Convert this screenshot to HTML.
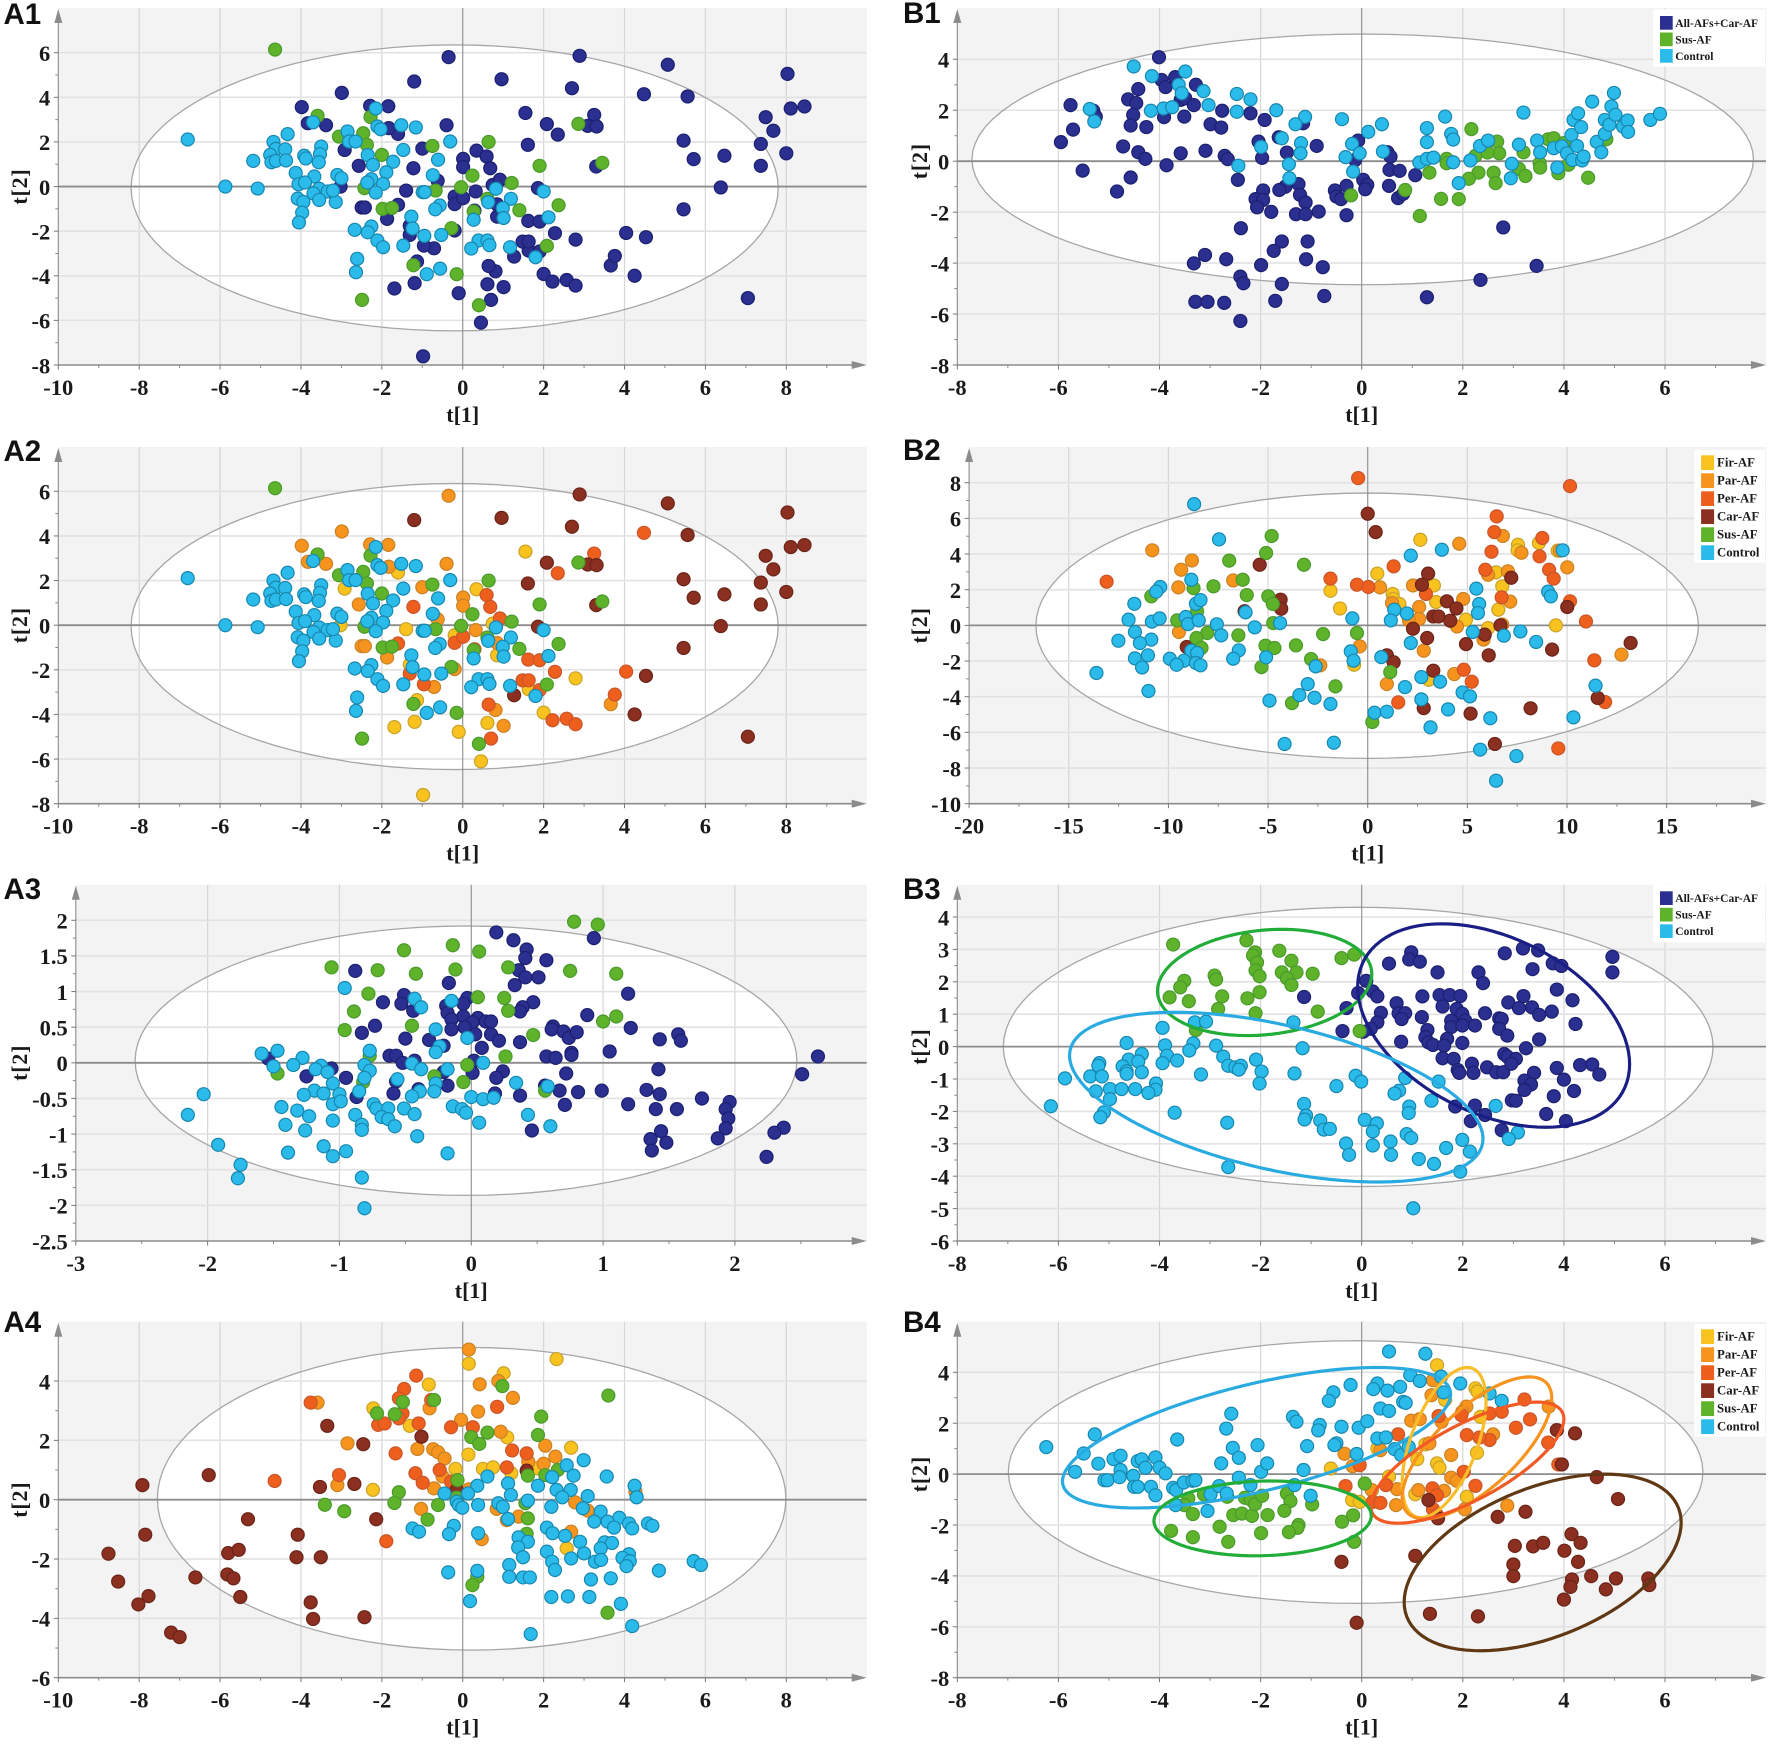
<!DOCTYPE html>
<html lang="en">
<head>
<meta charset="utf-8">
<title>PLS-DA score plots A1-A4 and B1-B4</title>
<style>
html,body{margin:0;padding:0;background:#fff;}
svg{display:block;}
.tick{font-family:"Liberation Serif",serif;font-weight:bold;font-size:22.5px;fill:#1a1a1a;}
.title{font-family:"Liberation Serif",serif;font-weight:bold;font-size:22px;fill:#1a1a1a;}
.plabel{font-family:"Liberation Sans",sans-serif;font-weight:bold;font-size:29.5px;fill:#111;}
.ltext{font-family:"Liberation Serif",serif;font-weight:bold;fill:#1a1a1a;}
</style>
</head>
<body>
<svg id="chart" xmlns="http://www.w3.org/2000/svg" width="1772" height="1745" viewBox="0 0 1772 1745"></svg>
<script>
/* ---------- Tick labels ---------- */
const tenToEightTicks = [-10,-8,-6,-4,-2,0,2,4,6,8];
const eightToSixTicks = [-8,-6,-4,-2,0,2,4,6];
const a12YTicks = [6,4,2,0,-2,-4,-6,-8];
const a3XTicks = [-3,-2,-1,0,1,2];
const a3YTicks = [2,1.5,1,0.5,0,-0.5,-1,-1.5,-2,-2.5];
const a4YTicks = [4,2,0,-2,-4,-6];
const b1YTicks = [4,2,0,-2,-4,-6,-8];
const b2XTicks = [-20,-15,-10,-5,0,5,10,15];
const b2YTicks = [8,6,4,2,0,-2,-4,-6,-8,-10];
const b3YTicks = [4,3,2,1,0,-1,-2,-3,-4,-5,-6];
const b4YTicks = [4,2,0,-2,-4,-6,-8];

/* ---------- Hotelling ellipses [t1 centre, half width, t2 centre, half height] ---------- */
const a12Hotelling = [-0.2,8.0,-0.06,6.41];
const a3Hotelling = [-0.04,2.51,0.03,1.89];
const a4Hotelling = [0.22,7.77,0.03,5.1];
const b1Hotelling = [0.02,7.73,0.07,4.92];
const b2Hotelling = [-0.03,16.62,-0.02,7.44];
const b3Hotelling = [-0.07,7.02,-0.01,4.31];
const b4Hotelling = [-0.12,6.87,0.08,5.16];

/* ---------- A1 / A2 scores (same samples, coloured differently) ---------- */
const a12Car = [[2.89,5.86],[5.07,5.46],[8.03,5.05],[-1.2,4.71],[0.96,4.81],[2.7,4.41],[5.56,4.04],[8.45,3.59],[8.11,3.5],[7.49,3.11],[7.68,2.5],[2.08,2.8],[3.09,2.72],[3.31,2.69],[5.46,2.06],[7.37,1.91],[1.61,1.87],[8.0,1.49],[6.47,1.38],[5.71,1.23],[7.37,0.93],[3.3,0.9],[1.86,-0.07],[6.38,-0.04],[5.46,-1.02],[4.53,-2.27],[1.27,-3.14],[4.25,-4.0],[7.05,-5.0]];
const a12Fir = [[1.55,3.3],[-1.6,2.36],[-2.92,1.64],[0.34,1.61],[-3.02,0],[-1.4,-0.18],[-0.2,-0.45],[0.74,0.07],[0.85,-1.35],[-1.31,-1.76],[2.79,-2.38],[1.63,-2.87],[-1.13,-3.36],[2.0,-3.92],[0.61,-4.38],[-1.19,-4.33],[-1.69,-4.57],[-0.1,-4.78],[0.45,-6.1],[-0.98,-7.61]];
const a12Par = [[-0.35,5.8],[-2.99,4.2],[-3.98,3.56],[-2.29,3.62],[-1.84,3.6],[-3.83,2.84],[-3.38,2.75],[-1.83,2.62],[-0.4,2.75],[-1.0,1.7],[0.01,1.24],[0.01,0.87],[-2.57,0.93],[0.92,0.3],[0.32,-0.22],[-2.5,-0.94],[-2.42,-0.94],[-1.87,-1.45],[-0.2,-1.97],[-0.71,-2.77],[3.66,-3.54],[0.81,-3.8],[1.01,-4.51],[0.85,-0.8],[-0.62,0.26]];
const a12Per = [[4.48,4.14],[3.25,3.21],[2.35,2.33],[0.59,1.35],[0.68,0.82],[-1.22,0.82],[-0.2,-0.79],[0.01,-0.52],[0.29,-1.08],[-1.6,-0.82],[1.62,-1.54],[1.9,-1.57],[-1.31,-2.17],[-0.96,-2.65],[2.28,-2.09],[4.04,-2.08],[1.48,-2.47],[1.63,-2.47],[1.9,-2.91],[3.76,-3.11],[0.64,-3.56],[2.22,-4.26],[2.57,-4.19],[2.79,-4.44],[0.7,-5.08],[0.92,0.3]];
const a12Sus = [[-4.64,6.14],[-3.59,3.17],[-2.28,3.12],[2.86,2.81],[-2.46,2.39],[-3.06,2.24],[-2.37,1.87],[-0.75,1.82],[0.64,2.0],[-2.0,1.42],[1.9,0.93],[3.45,1.06],[0.24,0.49],[1.21,0.16],[-0.04,-0.03],[-2.43,-0.07],[-0.67,-0.18],[0.61,-0.55],[2.37,-0.84],[-1.98,-1.0],[-1.75,-0.96],[1.4,-1.06],[0.27,-1.12],[-0.28,-1.87],[2.08,-2.66],[-1.22,-3.53],[-0.15,-3.93],[-2.49,-5.08],[0.4,-5.32]];
const a12Control = [[-6.8,2.11],[-5.87,0],[-5.07,-0.09],[-5.18,1.15],[-4.33,2.35],[-4.68,2.0],[-4.62,1.69],[-4.39,1.67],[-4.76,1.42],[-4.73,1.09],[-4.62,1.15],[-4.37,1.17],[-3.92,1.38],[-3.88,1.26],[-3.5,1.79],[-3.53,1.45],[-3.56,1.09],[-4.13,0.61],[-3.67,0.45],[-4.06,0.1],[-3.9,0.18],[-3.55,-0.1],[-3.69,-0.31],[-3.34,-0.22],[-4.08,-0.54],[-3.94,-0.69],[-3.55,-0.6],[-3.14,-0.69],[-3.97,-1.17],[-4.05,-1.61],[-3.21,-0.18],[-3.1,0.52],[-3.0,0.37],[-3.7,2.88],[-2.85,2.47],[-2.81,2.02],[-2.65,2.02],[-2.15,3.5],[-2.11,2.69],[-2.03,2.57],[-1.52,2.75],[-1.16,2.65],[-0.31,2.02],[-1.47,1.64],[-2.35,1.41],[-2.22,0.97],[-1.72,1.11],[-1.89,0.64],[-2.26,0.33],[-2.36,0.18],[-1.97,0.12],[-2.15,-0.27],[-0.61,1.2],[-0.74,0.51],[-0.99,-0.25],[-0.94,-0.25],[-0.57,-0.85],[-0.68,-1.02],[-1.27,-1.35],[-1.24,-1.88],[-2.26,-1.79],[-2.67,-1.94],[-2.35,-2.05],[-2.11,-2.42],[-1.97,-2.72],[-1.47,-2.65],[-0.95,-2.21],[-0.53,-2.17],[-2.61,-3.24],[-2.64,-3.84],[-0.56,-3.68],[-0.89,-3.93],[0.82,-0.1],[2.0,-0.22],[1.19,-0.55],[0.63,-0.7],[0.99,-0.97],[1.01,-1.41],[0.27,-1.49],[2.12,-1.38],[0.39,-2.42],[0.61,-2.42],[0.66,-2.63],[0.21,-2.78],[1.17,-2.72],[1.8,-3.17]];

/* ---------- A3 scores ---------- */
const a3Navy = [[0.19,1.83],[0.32,1.72],[0.93,1.75],[0.42,1.59],[0.41,1.47],[0.57,1.44],[0.36,1.3],[0.41,1.2],[0.51,1.2],[0.33,1.09],[-0.88,1.29],[-0.17,1.12],[1.19,0.97],[-0.51,0.95],[-0.67,0.85],[-0.53,0.83],[-0.44,0.73],[-0.03,0.91],[-0.19,0.8],[-0.06,0.83],[-0.18,0.7],[-0.06,0.65],[0.47,0.85],[0.39,0.78],[0.37,0.72],[0.88,0.67],[-0.15,0.61],[0.05,0.63],[0.11,0.58],[0.15,0.58],[0.01,0.57],[-0.05,0.5],[-0.15,0.47],[-0.73,0.52],[-0.83,0.42],[0.03,0.4],[0.15,0.4],[0.21,0.31],[0.62,0.51],[0.61,0.47],[0.7,0.44],[0.74,0.35],[0.8,0.43],[1.21,0.49],[1.57,0.4],[1.59,0.31],[1.43,0.33],[-0.5,0.34],[-0.32,0.32],[-0.21,0.24],[0.08,0.21],[0.37,0.29],[1.05,0.16],[0.76,0.14],[0.76,0.11],[0.57,0.09],[0.64,0.07],[-0.62,0.1],[-0.57,0.1],[-0.43,0.03],[-0.52,0],[0.02,0.03],[0.01,-0.14],[2.63,0.09],[2.51,-0.16],[1.42,-0.09],[0.72,-0.15],[0.24,-0.12],[0.19,-0.21],[-0.21,-0.13],[-0.95,-0.21],[-1.06,-0.08],[-1.25,-0.19],[-1.54,0.06],[-0.57,-0.26],[-0.18,-0.32],[-0.4,-0.37],[-0.59,-0.43],[-0.87,-0.48],[0.18,-0.43],[0.37,-0.46],[0.56,-0.32],[0.67,-0.39],[0.81,-0.41],[0.99,-0.39],[1.33,-0.38],[1.43,-0.44],[1.75,-0.5],[0.71,-0.59],[1.19,-0.58],[1.4,-0.65],[1.56,-0.65],[1.96,-0.55],[1.93,-0.65],[1.95,-0.78],[1.93,-0.92],[1.87,-1.06],[0.46,-0.95],[1.44,-0.96],[1.36,-1.07],[1.48,-1.12],[1.37,-1.23],[2.37,-0.91],[2.3,-0.98],[2.24,-1.32]];
const a3Sus = [[0.78,1.98],[0.96,1.94],[-0.51,1.58],[-0.14,1.65],[0.06,1.56],[0.28,1.34],[-1.06,1.34],[-0.71,1.3],[-0.42,1.25],[-0.12,1.31],[0.75,1.29],[1.1,1.25],[-0.78,0.97],[0.05,0.92],[0.25,0.91],[0.28,0.73],[-0.89,0.72],[1.1,0.65],[1.0,0.58],[-0.45,0.52],[-0.96,0.46],[0.47,0.39],[0.26,0.09],[-0.77,0.1],[-0.03,-0.03],[-1.47,-0.15],[-0.28,-0.19],[-0.06,-0.27],[-0.82,-0.27],[0.56,-0.39]];
const a3Control = [[-0.96,1.05],[-0.43,0.9],[-0.38,0.78],[-0.15,0.87],[-0.27,0.47],[-0.03,0.35],[-0.24,0.23],[-0.27,0.15],[-0.77,0.17],[-1.59,0.13],[-1.47,0.17],[-1.28,0.07],[-1.5,-0.05],[-1.35,-0.03],[-1.14,-0.04],[-1.18,-0.09],[-1.09,-0.13],[-0.81,-0.03],[-0.77,-0.11],[-0.81,-0.21],[-0.45,-0.01],[-0.38,-0.09],[-0.18,-0.09],[0.09,0],[-0.56,-0.23],[-1.05,-0.29],[-0.27,-0.29],[0.34,-0.28],[0.58,-0.33],[-1.19,-0.39],[-1.27,-0.45],[-1.12,-0.43],[-1.0,-0.44],[-0.85,-0.4],[-0.39,-0.4],[-0.28,-0.4],[-0.45,-0.47],[0,-0.48],[0.09,-0.51],[0.17,-0.49],[-2.03,-0.44],[-2.15,-0.73],[-1.44,-0.62],[-1.05,-0.58],[-0.99,-0.54],[-0.74,-0.58],[-0.72,-0.64],[-0.63,-0.64],[-0.51,-0.64],[-0.43,-0.72],[-0.14,-0.61],[-0.07,-0.65],[-0.04,-0.7],[0.43,-0.73],[-1.32,-0.67],[-1.23,-0.75],[-0.68,-0.76],[-0.63,-0.79],[-0.88,-0.73],[-1.05,-0.81],[-1.41,-0.87],[-0.83,-0.87],[-0.83,-0.94],[-0.58,-0.89],[0.06,-0.84],[0.6,-0.89],[-1.26,-0.95],[-0.41,-1.03],[-1.92,-1.15],[-1.12,-1.17],[-0.95,-1.24],[-1.05,-1.31],[-1.39,-1.26],[-0.18,-1.27],[-1.75,-1.43],[-1.77,-1.62],[-0.83,-1.61],[-0.81,-2.04]];

/* ---------- A4 scores ---------- */
const a4Fir = [[2.32,4.74],[0.15,4.58],[1.01,4.26],[-0.84,3.88],[-2.21,3.08],[-1.31,2.49],[1.1,2.1],[0.14,1.52],[2.68,1.75],[0.5,1.04],[0.75,1.09],[-0.18,1.04],[1.2,0.89],[-2.22,0.33],[2.57,-1.64],[1.83,1.06]];
const a4Par = [[0.15,5.06],[0.42,3.89],[0.88,4.0],[1.24,3.43],[-3.59,3.27],[-0.82,3.08],[0.38,2.97],[-0.04,2.69],[0.94,2.29],[-2.85,1.9],[-1.12,1.71],[-0.73,1.7],[-0.61,1.6],[-0.45,1.39],[2.04,1.82],[2.29,1.45],[1.62,1.28],[2.0,1.21],[-3.1,0.49],[-0.5,0.78],[-0.71,0.38],[-1.03,-0.31],[0.84,-0.31],[1.38,-0.57],[1.09,-0.69],[2.78,-0.09],[3.09,-0.37],[2.68,-1.08],[0.47,-1.33],[4.27,0.27],[0.15,0.35]];
const a4Per = [[-1.15,4.18],[-1.45,3.73],[-1.58,3.42],[-0.78,3.36],[-3.76,3.27],[0.85,3.13],[-1.49,2.91],[-1.58,2.74],[-2.09,2.52],[-1.93,2.57],[-1.09,2.57],[-0.29,2.44],[0.25,2.44],[-1.66,1.56],[1.22,1.66],[1.58,1.56],[1.09,1.09],[-0.57,1.0],[-1.17,0.89],[-3.06,0.83],[-0.99,0.57],[-4.65,0.63],[-0.29,0.61],[-1.89,-1.4]];
const a4Car = [[-7.92,0.49],[-6.28,0.83],[-3.53,0.43],[-2.68,0.53],[-3.35,2.49],[-2.46,1.87],[-1.02,2.12],[-5.31,-0.66],[-2.14,-0.66],[-7.85,-1.18],[-4.08,-1.18],[-8.76,-1.82],[-5.8,-1.8],[-5.54,-1.69],[-4.11,-1.94],[-3.51,-1.94],[-8.52,-2.76],[-6.61,-2.62],[-5.82,-2.52],[-5.67,-2.65],[-7.77,-3.25],[-8.02,-3.53],[-5.5,-3.28],[-3.76,-3.46],[-3.7,-4.02],[-2.43,-3.96],[-7.21,-4.48],[-7.0,-4.63],[1.58,0.98],[-0.15,0.33]];
const a4Sus = [[0.98,3.83],[3.6,3.51],[-0.71,3.36],[-1.48,3.29],[-2.12,2.91],[-1.68,2.88],[1.94,2.8],[0.61,2.26],[0.21,2.11],[1.86,2.18],[0.41,1.88],[2.35,1.0],[2.04,0.83],[1.61,0.81],[-0.13,0.66],[-1.58,0.25],[-1.69,-0.11],[-3.41,-0.17],[-2.93,-0.39],[-0.61,-0.18],[1.55,-0.12],[-0.15,0.07],[-0.87,-0.67],[1.61,-0.63],[1.58,-1.15],[0.36,-2.6],[0.24,-2.88],[3.58,-3.81]];
const a4Control = [[2.99,1.33],[2.57,1.16],[2.74,0.81],[3.56,0.78],[2.21,0.76],[0.61,0.78],[4.25,0.47],[1.12,0.55],[0.36,0.47],[1.86,0.47],[2.32,0.33],[2.67,0.33],[-0.45,0.21],[0.13,0.21],[1.19,0.16],[2.46,0.08],[3.09,0.12],[4.3,0.08],[-0.15,-0.07],[-0.1,-0.18],[-0.01,-0.27],[0.38,-0.18],[0.88,-0.12],[0.99,-0.24],[1.61,-0.03],[2.19,-0.24],[2.97,-0.29],[3.41,-0.4],[1.12,-0.65],[3.87,-0.61],[3.25,-0.74],[3.58,-0.74],[4.11,-0.8],[3.74,-0.94],[4.19,-0.97],[4.58,-0.8],[4.69,-0.88],[-1.24,-0.97],[-1.08,-1.08],[-0.22,-0.88],[-0.34,-1.16],[0.38,-1.13],[2.08,-0.94],[2.22,-1.13],[2.53,-1.22],[1.38,-1.27],[1.61,-1.42],[1.37,-1.61],[2.9,-1.42],[3.51,-1.44],[3.69,-1.46],[3.41,-1.64],[2.08,-1.75],[3.0,-1.81],[1.49,-1.94],[2.68,-1.98],[4.11,-1.84],[3.27,-2.09],[3.42,-2.03],[3.95,-1.96],[4.13,-2.07],[2.21,-2.09],[4.05,-2.24],[5.71,-2.07],[5.89,-2.2],[2.28,-2.37],[4.85,-2.39],[1.15,-2.2],[0.36,-2.4],[-0.36,-2.45],[1.15,-2.6],[1.49,-2.62],[1.66,-2.62],[3.17,-2.69],[3.66,-2.65],[2.19,-3.28],[2.6,-3.26],[3.13,-3.28],[3.91,-3.51],[0.18,-3.42],[4.19,-4.26],[1.68,-4.53]];

/* ---------- B1 scores ---------- */
const b1Navy = [[-4.01,4.08],[-3.96,3.19],[-3.69,3.3],[-3.88,2.91],[-3.28,3.0],[-4.42,2.83],[-4.62,2.43],[-4.46,2.28],[-5.76,2.2],[-5.31,1.98],[-5.26,1.75],[-3.58,2.41],[-3.49,2.47],[-3.32,2.2],[-2.76,1.98],[-2.2,1.88],[-1.92,1.62],[-4.52,1.82],[-3.91,1.73],[-3.51,1.75],[-5.71,1.24],[-4.57,1.4],[-4.26,1.34],[-2.99,1.45],[-2.78,1.32],[-1.16,1.49],[-5.95,0.75],[-4.72,0.58],[-1.64,0.94],[-2.04,0.77],[-0.89,0.6],[-0.07,0.81],[-4.42,0.35],[-4.28,0.09],[-3.58,0.31],[-3.09,0.41],[-2.71,0.21],[-2.65,0.08],[-1.97,0.13],[-1.48,0.34],[-0.13,0.05],[0.51,0.35],[0.57,0.18],[-3.86,-0.16],[-5.52,-0.37],[-4.57,-0.64],[-4.84,-1.19],[-2.45,-0.73],[0.55,-0.34],[0.75,-0.38],[1.06,-0.55],[-1.25,-0.9],[-1.51,-1.0],[-1.63,-1.13],[-1.95,-1.15],[0.03,-0.73],[0.11,-0.93],[-0.3,-0.97],[0.07,-1.1],[-0.53,-1.15],[0.54,-0.97],[-1.22,-1.32],[-0.5,-1.39],[-0.41,-1.49],[0.72,-1.45],[0.82,-1.28],[-2.1,-1.49],[-1.95,-1.52],[-1.11,-1.62],[-2.07,-1.81],[-1.79,-1.99],[-1.3,-2.08],[-1.11,-2.08],[-0.85,-1.98],[-0.3,-2.12],[-2.39,-2.63],[2.8,-2.6],[-1.58,-3.15],[-1.07,-3.15],[-1.74,-3.52],[-3.1,-3.68],[-3.32,-4.01],[-2.68,-3.85],[-1.99,-4.08],[-1.1,-3.85],[-0.77,-4.16],[3.46,-4.11],[-2.4,-4.53],[-2.34,-4.79],[-1.58,-4.82],[2.35,-4.66],[-0.74,-5.29],[1.29,-5.34],[-3.29,-5.52],[-3.05,-5.52],[-2.72,-5.56],[-1.71,-5.48],[-2.4,-6.27]];
const b1Sus = [[2.17,1.26],[3.69,0.86],[3.8,0.9],[2.68,0.77],[2.44,0.51],[2.72,0.31],[2.25,0.21],[2.49,0.34],[3.2,0.35],[1.68,0.09],[1.68,-0.08],[4.0,0.71],[4.84,0.86],[3.52,-0.08],[3.53,-0.25],[3.11,-0.3],[3.24,-0.58],[2.31,-0.45],[2.61,-0.45],[2.12,-0.69],[2.65,-0.86],[1.34,-0.45],[3.89,-0.47],[4.09,-0.14],[4.48,-0.65],[0.86,-1.13],[-0.21,-1.34],[1.57,-1.48],[1.92,-1.49],[1.15,-2.15]];
const b1Control = [[-4.51,3.72],[-4.15,3.34],[-3.49,3.52],[-3.62,3.0],[-3.56,2.67],[-3.13,2.75],[-2.47,2.64],[-2.2,2.43],[-3.03,2.2],[-5.38,2.05],[-5.29,1.56],[-4.17,1.98],[-3.92,2.07],[-3.75,2.12],[-2.47,1.94],[-1.69,2.0],[-1.12,1.74],[-1.31,1.45],[-0.39,1.65],[0.4,1.45],[0.13,1.15],[1.29,1.3],[1.65,1.75],[3.2,1.91],[1.77,1.07],[1.81,0.85],[1.29,0.75],[-1.58,0.9],[-1.2,0.71],[-1.21,0.31],[-1.99,0.56],[-0.19,0.68],[-0.04,0.31],[-0.32,0.16],[0.42,0.38],[-1.44,-0.12],[-2.44,-0.18],[-0.17,-0.41],[-1.43,-0.67],[1.14,-0.05],[1.29,0.09],[1.42,0.14],[1.81,-0.04],[2.15,0.03],[1.92,-0.86],[2.34,0.6],[2.5,0.81],[3.11,0.65],[3.47,0.81],[2.97,-0.1],[2.95,-0.67],[3.53,0.35],[3.8,0.51],[3.87,-0.25],[3.96,0.58],[4.06,0.31],[4.15,1.03],[4.19,1.62],[4.28,1.88],[4.34,1.34],[4.26,0.6],[4.17,0.05],[4.36,0.03],[4.39,0.18],[4.56,2.34],[4.65,0.76],[4.74,0.35],[4.81,1.62],[4.81,1.07],[4.9,1.43],[4.94,2.15],[4.99,2.68],[5.02,1.82],[5.17,1.36],[5.26,1.6],[5.27,1.15],[5.71,1.62],[5.9,1.86]];

/* ---------- B2 scores ---------- */
const b2Fir = [[2.64,4.8],[7.54,4.52],[8.59,4.62],[7.52,4.21],[9.53,4.19],[0.48,2.9],[6.44,2.97],[3.32,2.24],[6.75,2.19],[-1.87,1.94],[1.25,1.76],[1.28,1.48],[1.59,1.2],[3.43,1.31],[-1.39,0.95],[6.55,0.88],[4.93,0.32],[9.44,0],[6.04,-0.15],[-0.68,-2.21],[3.06,-3.05]];
const b2Par = [[-10.81,4.21],[-8.82,3.64],[-9.36,3.12],[-9.5,2.13],[-6.75,2.52],[-9.47,-0.37],[4.59,4.58],[6.78,5.01],[7.71,4.07],[9.64,4.19],[10.01,3.25],[7.03,3.03],[6.04,2.84],[0.62,2.13],[2.27,2.24],[4.79,1.48],[7.15,1.33],[1.22,1.25],[2.58,1.03],[2.58,0.36],[2.07,0.28],[4.48,-0.06],[6.75,0.04],[-0.4,-1.18],[2.81,-1.42],[5.81,-0.8],[4.34,-2.73],[12.73,-1.64],[-2.38,-2.24],[0.96,-3.29]];
const b2Per = [[-0.48,8.26],[10.15,7.81],[6.47,6.11],[6.35,5.23],[6.21,4.13],[8.76,4.9],[8.62,3.87],[5.9,3.12],[9.1,3.12],[9.33,2.62],[1.3,3.31],[-1.87,2.62],[-0.54,2.28],[0.03,2.15],[-13.1,2.45],[2.92,1.76],[6.72,1.57],[10.15,1.35],[10.95,0.22],[11.37,-1.96],[4.82,-2.49],[5.22,-3.16],[1.53,-4.32],[11.91,-4.3],[9.56,-6.9]];
const b2Car = [[0,6.26],[0.4,5.23],[-5.42,3.4],[3.03,2.9],[2.72,2.28],[7.2,2.67],[3.97,1.35],[-4.37,1.44],[-4.34,0.93],[-6.18,0.79],[4.45,0.95],[10.01,1.03],[3.29,0.5],[3.55,0.5],[4.14,0.26],[2.27,-0.19],[2.98,-0.71],[6.66,0],[5.87,-0.52],[4.93,-1.05],[6.07,-1.68],[9.25,-1.36],[13.19,-0.99],[-9.08,-1.21],[0.96,-1.68],[1.3,-2.07],[3.29,-2.54],[11.54,-4.07],[2.81,-4.64],[5.16,-4.95],[8.17,-4.65],[6.38,-6.65]];
const b2Sus = [[-4.82,5.01],[-5.1,4.06],[-6.95,3.63],[-3.2,3.4],[-6.27,2.56],[-7.74,2.19],[-8.74,2.09],[-10.86,1.63],[-6.07,1.7],[-4.99,1.63],[-4.76,1.2],[-8.56,0.79],[-9.56,0.28],[-4.74,0.13],[-8.05,-0.43],[-6.49,-0.56],[-8.59,-0.71],[-2.24,-0.49],[-0.54,-0.43],[-8.34,-1.27],[-5.13,-1.14],[-4.68,-1.27],[-3.6,-1.12],[-2.84,-1.89],[-5.33,-2.34],[1.13,-2.62],[-1.62,-3.42],[-3.8,-4.36],[0.23,-5.42]];
const b2Control = [[-8.71,6.8],[-7.46,4.82],[2.16,3.91],[3.72,4.24],[9.78,4.21],[-8.85,2.56],[-10.41,2.15],[-10.61,1.89],[5.45,2.06],[9.05,1.89],[9.19,1.63],[-11.71,1.21],[-8.62,1.21],[-8.39,1.42],[5.59,1.2],[5.53,0.69],[1.33,0.88],[1.96,0.67],[-6.13,0.73],[-12.0,0.32],[-10.83,0.21],[-10.44,0.39],[-9.13,0.47],[-9.02,0.07],[-8.48,0.28],[-7.57,0.06],[-5.67,-0.11],[-4.4,0.13],[-0.77,0.39],[1.16,0.28],[-11.68,-0.37],[-7.35,-0.56],[-10.86,-0.8],[-12.51,-0.86],[-11.43,-0.99],[5.27,-0.37],[6.83,-0.58],[7.66,-0.34],[8.45,-0.93],[2.16,-0.99],[-8.85,-1.42],[-6.47,-1.4],[-0.85,-1.46],[-11.03,-1.68],[-8.56,-1.55],[-11.68,-1.85],[-9.93,-1.87],[-9.22,-1.98],[-9.59,-2.21],[-8.62,-2.11],[-8.39,-2.24],[-6.75,-1.87],[-5.1,-1.79],[-0.71,-1.98],[0.68,-1.78],[-11.32,-2.36],[-2.61,-2.3],[-13.61,-2.67],[2.69,-2.9],[3.63,-3.16],[-3.01,-3.29],[1.87,-3.46],[11.43,-3.38],[-11.0,-3.68],[-3.43,-3.91],[-2.67,-4.06],[4.76,-3.76],[5.13,-3.98],[2.69,-4.15],[-4.93,-4.22],[-1.87,-4.41],[4.03,-4.71],[0.34,-4.9],[0.96,-4.84],[6.15,-5.21],[10.32,-5.16],[3.15,-5.72],[-4.17,-6.65],[-1.7,-6.58],[5.64,-6.97],[7.46,-7.33],[6.44,-8.71]];

/* ---------- B3 scores ---------- */
const b3Sus = [[-3.73,3.15],[-2.28,3.28],[-2.11,2.91],[-2.15,2.81],[-2.07,2.6],[-1.63,2.96],[-1.39,2.65],[-0.4,2.73],[-0.15,2.84],[-2.91,2.19],[-2.88,2.07],[-2.1,2.35],[-2.02,2.17],[-1.58,2.29],[-1.29,2.29],[-1.48,2.11],[-0.97,2.25],[-1.39,1.9],[-3.51,2.03],[-3.59,1.83],[-3.8,1.52],[-3.42,1.4],[-2.76,1.55],[-2.26,1.49],[-2.02,1.68],[-2.84,1.16],[-2.1,1.03],[-0.87,1.08],[-3.28,0.51],[-0.04,0.48]];
const b3Navy = [[0.98,2.91],[0.94,2.69],[1.15,2.62],[0.54,2.56],[1.5,2.29],[2.83,2.88],[3.19,3.03],[3.49,2.97],[4.96,2.77],[4.96,2.29],[3.78,2.57],[3.95,2.49],[3.38,2.39],[2.31,2.29],[2.4,1.96],[0.09,2.03],[-0.07,1.65],[0.22,1.7],[0.31,1.55],[-1.14,1.53],[0.69,1.34],[1.2,1.55],[1.54,1.59],[1.74,1.59],[1.95,1.56],[3.86,1.76],[3.2,1.56],[4.17,1.43],[2.9,1.36],[3.37,1.21],[3.11,1.19],[1.6,1.24],[1.88,1.16],[-0.3,1.19],[0.38,1.04],[0.73,1.03],[0.86,1.03],[1.99,1.01],[2.44,1.03],[3.51,0.98],[3.76,1.08],[0.79,0.85],[1.19,0.91],[1.77,0.8],[2.05,0.8],[2.72,0.87],[2.77,0.85],[0.31,0.75],[4.23,0.7],[1.77,0.6],[1.99,0.65],[2.24,0.65],[2.72,0.55],[1.3,0.51],[0.18,0.55],[-0.38,0.48],[0.03,0.46],[2.88,0.34],[1.26,0.29],[1.32,0.13],[1.41,0.05],[1.69,0.24],[0.78,0.15],[1.99,0.11],[1.63,0.03],[3.51,0.22],[3.25,-0.05],[1.6,-0.36],[1.82,-0.38],[2.82,-0.23],[2.88,-0.31],[3.05,-0.38],[2.18,-0.53],[2.48,-0.64],[1.9,-0.72],[1.93,-0.81],[2.21,-0.81],[2.66,-0.79],[2.8,-0.79],[2.96,-0.53],[3.41,-0.81],[3.86,-0.66],[4.32,-0.57],[4.56,-0.55],[4.7,-0.86],[4.0,-1.02],[3.22,-1.05],[3.35,-1.17],[3.22,-1.34],[4.2,-1.37],[3.8,-1.53],[2.97,-1.66],[3.05,-1.67],[1.85,-1.85],[2.24,-1.82],[2.44,-2.11],[2.16,-2.3],[3.65,-2.08],[4.04,-2.3],[2.77,-2.58]];
const b3Control = [[-3.3,0.75],[-3.08,0.77],[-1.35,0.75],[-3.94,0.58],[-4.65,0.11],[-3.89,0.04],[-3.33,0.1],[-2.88,0.03],[-1.17,-0.05],[-3.41,-0.12],[-2.74,-0.31],[-4.35,-0.23],[-3.85,-0.28],[-4.61,-0.4],[-4.42,-0.46],[-3.65,-0.43],[-3.94,-0.51],[-5.19,-0.51],[-5.21,-0.59],[-4.73,-0.61],[-4.65,-0.76],[-4.35,-0.79],[-2.64,-0.59],[-2.5,-0.64],[-2.39,-0.59],[-2.43,-0.71],[-2.09,-0.4],[-1.98,-0.77],[-1.33,-0.83],[-3.18,-0.86],[-5.87,-0.98],[-5.37,-0.92],[-5.14,-0.92],[-4.65,-0.84],[-0.12,-0.9],[-0.01,-1.08],[-2.02,-1.14],[0.86,-0.97],[1.52,-1.08],[-4.07,-1.14],[-0.5,-1.22],[-4.98,-1.31],[-4.75,-1.31],[-4.48,-1.31],[-4.08,-1.33],[-5.26,-1.38],[-4.22,-1.43],[0.74,-1.36],[0.65,-1.45],[-4.98,-1.62],[1.38,-1.67],[-6.15,-1.84],[2.65,-1.83],[0.94,-1.85],[0.93,-2.05],[-1.14,-1.77],[-3.7,-2.04],[-5.1,-2.03],[-5.17,-2.18],[-1.1,-2.13],[-1.13,-2.25],[-0.82,-2.28],[0.06,-2.26],[0.3,-2.37],[-2.66,-2.35],[-0.75,-2.56],[-0.63,-2.54],[0.22,-2.62],[0.89,-2.7],[0.98,-2.82],[3.09,-2.65],[2.91,-2.85],[1.99,-2.88],[-0.31,-2.99],[0.57,-2.93],[0.22,-3.05],[1.67,-3.13],[2.14,-3.24],[-0.25,-3.34],[0.58,-3.34],[1.13,-3.47],[1.43,-3.62],[-2.64,-3.72],[1.95,-3.86],[1.02,-4.99]];

/* ---------- B4 scores ---------- */
const b4Fir = [[1.49,4.28],[2.25,3.37],[2.29,3.24],[1.65,2.91],[2.35,2.25],[0.31,1.01],[1.26,1.17],[1.1,0.59],[2.28,0.84],[1.49,0.42],[1.54,0.25],[-0.61,0.22],[0.54,-0.1],[1.06,-0.79],[-0.19,-1.02],[-0.04,-1.09],[2.08,-0.89]];
const b4Par = [[1.41,3.69],[1.38,3.1],[2.07,2.65],[1.99,2.45],[0.98,2.1],[1.15,2.16],[1.58,2.06],[2.6,1.56],[3.7,2.65],[1.34,1.21],[0.37,0.94],[-0.34,0.8],[-0.18,0.31],[1.77,0.75],[1.77,-0.14],[1.63,-0.66],[0.7,-0.59],[0.2,-0.63],[0.68,-1.22],[2.88,-1.24],[2.04,-1.38],[1.88,-0.26],[1.12,-0.63]];
const b4Per = [[3.22,2.93],[3.33,2.15],[3.05,1.82],[2.77,2.45],[2.53,1.34],[2.33,1.44],[2.08,1.53],[3.69,1.24],[1.97,2.32],[1.52,2.28],[0.72,1.56],[2.02,0.09],[3.89,0.38],[-0.04,0.35],[-0.32,-0.47],[0.48,-0.43],[0.22,-1.09],[0.37,-1.13],[1.4,-0.56],[1.49,-0.83],[2.25,-0.46],[1.41,-1.38],[1.49,-1.61],[2.53,2.38]];
const b4Car = [[3.86,1.73],[4.22,1.6],[3.96,0.38],[4.65,-0.12],[5.07,-0.98],[1.32,-1.02],[1.51,-1.74],[2.69,-1.68],[3.24,-1.48],[4.15,-2.36],[3.03,-2.82],[3.39,-2.84],[3.59,-2.7],[4.33,-2.7],[4.01,-3.01],[4.28,-3.45],[1.06,-3.21],[-0.4,-3.45],[3.0,-3.55],[3.0,-4.01],[4.16,-4.14],[4.13,-4.43],[4.54,-4.01],[5.03,-4.1],[5.67,-4.1],[5.69,-4.36],[4.83,-4.53],[4.0,-4.93],[1.35,-5.49],[2.3,-5.59],[-0.1,-5.84]];
const b4Sus = [[-3.43,-0.96],[-3.51,-1.22],[-3.77,-2.23],[-3.34,-1.57],[-3.34,-2.48],[-2.81,-2.07],[-2.64,-2.66],[-2.66,-0.89],[-3.12,-0.8],[-2.54,-1.61],[-2.37,-1.55],[-2.17,-1.64],[-1.86,-1.61],[-1.99,-2.32],[-2.31,-0.93],[-2.2,-1.0],[-2.11,-1.18],[-1.97,-0.85],[-1.48,-0.76],[-1.41,-1.06],[-1.53,-1.44],[-0.98,-1.19],[-1.25,-2.0],[-1.27,-2.11],[-1.44,-2.28],[-0.39,-1.87],[-0.17,-1.62],[-0.15,-2.66],[0.06,-0.37]];
const b4Control = [[-6.24,1.06],[-5.28,1.56],[-5.5,0.81],[-5.67,0.09],[-5.21,0.41],[-5.09,-0.24],[-5.03,-0.24],[-4.91,0.59],[-4.77,0.72],[-4.77,0.16],[-4.79,-0.12],[-4.52,-0.07],[-4.43,0.51],[-4.35,0.58],[-4.28,0.25],[-4.5,-0.5],[-4.43,-0.5],[-4.17,-0.5],[-4.08,0.66],[-4.0,0.26],[-3.88,0.03],[-4.08,-0.83],[-3.73,-0.54],[-3.67,-0.63],[-3.52,-0.33],[-3.35,-0.26],[-3.29,-0.24],[-3.65,1.36],[-3.68,-1.22],[-3.05,-1.45],[-2.99,-0.79],[-2.82,-0.47],[-2.78,0.42],[-2.68,1.79],[-2.58,2.37],[-2.55,1.03],[-2.43,0.64],[-2.43,-0.14],[-2.67,-0.76],[-2.2,-0.43],[-2.06,1.14],[-1.99,0.09],[-1.87,0.42],[-1.36,2.25],[-1.29,2.06],[-1.08,1.1],[-1.15,0.16],[-1.33,-0.43],[-1.01,-0.85],[-0.83,1.93],[-0.86,1.72],[-0.56,3.21],[-0.65,2.88],[-0.22,3.5],[-0.4,1.86],[-0.06,1.82],[0.11,2.08],[-0.5,1.21],[-0.54,1.14],[-0.1,0.79],[0.31,3.56],[0.23,3.34],[0.51,3.28],[0.76,3.43],[0.37,2.58],[0.54,2.48],[0.82,2.84],[0.87,2.8],[0.31,1.4],[0.48,1.44],[0.65,0.98],[0.78,0.75],[0.93,1.07],[0.96,3.89],[1.15,3.66],[0.54,4.82],[1.26,4.73],[1.57,3.83],[1.62,3.21],[1.95,3.56],[2.53,3.17],[2.77,2.88]];

/* ---------- Group ellipses [t1 centre, half width, t2 centre, half height, tilt] ---------- */
const b3GroupSus = [-1.92,2.12,1.98,1.64,0.16];
const b3GroupNavy = [2.61,2.69,0.65,3.14,-0.38];
const b3GroupControl = [-1.69,4.09,-1.56,2.62,-0.49];
const b4GroupControl = [-2.08,3.84,1.43,2.76,0.62];
const b4GroupFir = [1.63,0.83,1.24,2.95,0.55];
const b4GroupPar = [2.28,1.48,1.03,2.79,0.7];
const b4GroupPer = [2.09,1.91,0.45,2.38,0.72];
const b4GroupCar = [3.58,2.74,-3.47,3.47,0.45];
const b4GroupSus = [-1.96,2.15,-1.74,1.47,0.07];

/* ---------- Styling ---------- */
const swatch = {
  navy:{fill:'#2b2f8f',stroke:'#1c2070',label:'All-AFs+Car-AF'},
  sus:{fill:'#5fb32a',stroke:'#4a9a2c',label:'Sus-AF'},
  control:{fill:'#2bbbea',stroke:'#1787ae',label:'Control'},
  fir:{fill:'#f8c21f',stroke:'#c8a22a',label:'Fir-AF'},
  par:{fill:'#f7941e',stroke:'#c98226',label:'Par-AF'},
  per:{fill:'#ee5f1e',stroke:'#c9562a',label:'Per-AF'},
  car:{fill:'#8b2f20',stroke:'#6a2418',label:'Car-AF'}
};
const legend3 = ['navy','sus','control'];
const legend6 = ['fir','par','per','car','sus','control'];

const panels = [
 {id:'a1',label:'A1',lx:3.5,ly:24,x0:58.3,x1:786.3,y0:52.7,y1:365,right:866.7,top:8,tx:20,xTicks:tenToEightTicks,yTicks:a12YTicks,hot:a12Hotelling,
  series:[['navy',a12Fir],['navy',a12Par],['navy',a12Per],['navy',a12Car],['sus',a12Sus],['control',a12Control]]},
 {id:'a2',label:'A2',lx:3.5,ly:461,x0:58.3,x1:786.3,y0:491.3,y1:803.7,right:866.7,top:447,tx:20,xTicks:tenToEightTicks,yTicks:a12YTicks,hot:a12Hotelling,
  series:[['fir',a12Fir],['par',a12Par],['per',a12Per],['car',a12Car],['sus',a12Sus],['control',a12Control]]},
 {id:'a3',label:'A3',lx:3.5,ly:899,x0:75.8,x1:734.9,y0:920.3,y1:1241,right:866.7,top:884.7,tx:20,xTicks:a3XTicks,yTicks:a3YTicks,hot:a3Hotelling,
  series:[['navy',a3Navy],['sus',a3Sus],['control',a3Control]]},
 {id:'a4',label:'A4',lx:3.5,ly:1332,x0:58.3,x1:786.3,y0:1381,y1:1677.7,right:866.7,top:1321.7,tx:20,xTicks:tenToEightTicks,yTicks:a4YTicks,hot:a4Hotelling,
  series:[['fir',a4Fir],['par',a4Par],['per',a4Per],['car',a4Car],['sus',a4Sus],['control',a4Control]]},
 {id:'b1',label:'B1',lx:903,ly:23,x0:957.3,x1:1665,y0:59.3,y1:365,right:1766,top:8,tx:920,xTicks:eightToSixTicks,yTicks:b1YTicks,hot:b1Hotelling,
  series:[['navy',b1Navy],['sus',b1Sus],['control',b1Control]],
  legend:{x:1653.3,y:9.3,w:111.7,h:57.4,sx:1660,sy:16,sw:12.7,sh:13.7,step:16.5,tx:1675.3,fs:11.5,items:legend3}},
 {id:'b2',label:'B2',lx:903,ly:460,x0:969.1,x1:1666.7,y0:482.7,y1:803.7,right:1766,top:447,tx:920,xTicks:b2XTicks,yTicks:b2YTicks,hot:b2Hotelling,
  series:[['fir',b2Fir],['par',b2Par],['per',b2Per],['car',b2Car],['sus',b2Sus],['control',b2Control]],
  legend:{x:1694.4,y:450,w:70.6,h:112.7,sx:1701.1,sy:455.3,sw:13,sh:14.7,step:18,tx:1717,fs:12.8,items:legend6}},
 {id:'b3',label:'B3',lx:903,ly:899,x0:957.3,x1:1665,y0:917,y1:1241,right:1766,top:884.7,tx:920,xTicks:eightToSixTicks,yTicks:b3YTicks,hot:b3Hotelling,
  series:[['navy',b3Navy],['sus',b3Sus],['control',b3Control]],
  groups:[[b3GroupSus,'#22ac38'],[b3GroupNavy,'#1b1f85'],[b3GroupControl,'#29abe2']],
  legend:{x:1653.3,y:885,w:111.7,h:57.4,sx:1660,sy:891.3,sw:12.7,sh:13.7,step:16.5,tx:1675.3,fs:11.5,items:legend3}},
 {id:'b4',label:'B4',lx:903,ly:1332,x0:957.3,x1:1665,y0:1372.3,y1:1677.7,right:1766,top:1321.7,tx:920,xTicks:eightToSixTicks,yTicks:b4YTicks,hot:b4Hotelling,
  series:[['fir',b4Fir],['par',b4Par],['per',b4Per],['car',b4Car],['sus',b4Sus],['control',b4Control]],
  groups:[[b4GroupControl,'#29abe2'],[b4GroupFir,'#f7bd2a'],[b4GroupPar,'#f7931e'],[b4GroupPer,'#f15a24'],[b4GroupCar,'#603813'],[b4GroupSus,'#22ac38']],
  legend:{x:1694.4,y:1324,w:70.6,h:112.7,sx:1701.1,sy:1329.3,sw:13,sh:14.7,step:18,tx:1717,fs:12.8,items:legend6}}
];

/* ---------- Drawing ---------- */
const NS = 'http://www.w3.org/2000/svg';
const root = document.getElementById('chart');
function make(tag, parent, attrs){
  const e = document.createElementNS(NS, tag);
  for (const k in attrs) e.setAttribute(k, attrs[k]);
  parent.appendChild(e);
  return e;
}
function ellipsePath(p, sx, sy){
  const cx = p[0], a = p[1], cy = p[2], b = p[3], rho = p[4] || 0;
  const q = Math.sqrt(1 - rho * rho);
  let d = '';
  for (let i = 0; i <= 96; i++){
    const th = i / 96 * 2 * Math.PI;
    const u = cx + a * Math.cos(th);
    const v = cy + b * (rho * Math.cos(th) + q * Math.sin(th));
    d += (i ? 'L' : 'M') + sx(u).toFixed(2) + ' ' + sy(v).toFixed(2);
  }
  return d + 'Z';
}

panels.forEach(function(p){
  const xt = p.xTicks, yt = p.yTicks;
  const sx = function(v){ return p.x0 + (v - xt[0]) / (xt[xt.length-1] - xt[0]) * (p.x1 - p.x0); };
  const sy = function(v){ return p.y0 + (v - yt[0]) / (yt[yt.length-1] - yt[0]) * (p.y1 - p.y0); };

  const g = make('g', root, {});
  
  

  const bg = make('rect', g, {x:p.x0, y:p.top, width:p.right-p.x0, height:p.y1-p.top, fill:'#f3f3f3'});
  
  

  const hot = make('path', g, {d:ellipsePath(p.hot, sx, sy), fill:'#fff', stroke:'none'});
  
  

  xt.forEach(function(t){
    if (t === 0 || t === xt[0]) return;
    const l = make('line', g, {x1:sx(t), x2:sx(t), y1:p.top, y2:p.y1, stroke:'#d6d6d6', 'stroke-width':1.2});
    
    
  });
  yt.forEach(function(t){
    if (t === 0 || t === yt[yt.length-1]) return;
    const l = make('line', g, {x1:p.x0, x2:p.right, y1:sy(t), y2:sy(t), stroke:'#e2e2e2', 'stroke-width':1.6});
    
    
  });

  const hotLine = make('path', g, {d:ellipsePath(p.hot, sx, sy), fill:'none', stroke:'#a6a6a6', 'stroke-width':1.3});
  
  

  const zeroH = make('line', g, {x1:p.x0, x2:p.right, y1:sy(0), y2:sy(0), stroke:'#8c8c8c', 'stroke-width':1.8});
  
  
  const zeroV = make('line', g, {x1:sx(0), x2:sx(0), y1:p.top, y2:p.y1, stroke:'#8c8c8c', 'stroke-width':1.1});
  
  

  /* axes */
  const axX = make('line', g, {x1:p.x0, x2:p.right-8, y1:p.y1, y2:p.y1, stroke:'#8c8c8c', 'stroke-width':1.6});
  
  
  const axY = make('line', g, {x1:p.x0, x2:p.x0, y1:p.top+8, y2:p.y1, stroke:'#8c8c8c', 'stroke-width':1.1});
  
  
  const arX = make('polygon', g, {points:(p.right-15)+','+(p.y1-4)+' '+p.right+','+p.y1+' '+(p.right-15)+','+(p.y1+4), fill:'#8c8c8c'});
  
  
  const arY = make('polygon', g, {points:(p.x0-4)+','+(p.top+15)+' '+p.x0+','+(p.top+1)+' '+(p.x0+4)+','+(p.top+15), fill:'#8c8c8c'});
  
  

  /* ticks + labels */
  xt.forEach(function(t, i){
    const k = make('line', g, {x1:sx(t), x2:sx(t), y1:p.y1, y2:p.y1+4.5, stroke:'#777', 'stroke-width':1});
    
    
    const step = xt[1] - xt[0];
    const m = make('line', g, {x1:sx(t+step/2), x2:sx(t+step/2), y1:p.y1, y2:p.y1+3, stroke:'#888', 'stroke-width':1});
    
    
    const lb = make('text', g, {x:sx(t), y:p.y1+30, 'text-anchor':'middle', 'class':'tick'});
    
    
    lb.textContent = t;
  });
  yt.forEach(function(t, i){
    const k = make('line', g, {x1:p.x0-4.5, x2:p.x0, y1:sy(t), y2:sy(t), stroke:'#777', 'stroke-width':1});
    
    
    if (i < yt.length - 1){
      const mid = (t + yt[i+1]) / 2;
      const m = make('line', g, {x1:p.x0-3, x2:p.x0, y1:sy(mid), y2:sy(mid), stroke:'#888', 'stroke-width':1});
      
      
    }
    const lb = make('text', g, {x:p.x0-8, y:sy(t)+8.3, 'text-anchor':'end', 'class':'tick'});
    
    
    lb.textContent = t;
  });

  /* titles */
  const xTitle = make('text', g, {x:sx(0), y:p.y1+57, 'text-anchor':'middle', 'class':'title'});
  
  
  xTitle.textContent = 't[1]';
  const yTitle = make('text', g, {x:0, y:0, 'text-anchor':'middle', 'class':'title', 'letter-spacing':'0.8', transform:'translate('+(p.tx+7)+' '+sy(0)+') rotate(-90)'});
  
  
  yTitle.textContent = 't[2]';
  const pl = make('text', g, {x:p.lx, y:p.ly, 'class':'plabel'});
  
  
  pl.textContent = p.label;

  /* points */
  p.series.forEach(function(s){
    const st = swatch[s[0]];
    s[1].forEach(function(pt){
      const c = make('circle', g, {cx:sx(pt[0]), cy:sy(pt[1]), r:6.5, fill:st.fill, stroke:st.stroke, 'stroke-width':1.2});
      
      
    });
  });

  /* group ellipses */
  (p.groups || []).forEach(function(e){
    const path = make('path', g, {d:ellipsePath(e[0], sx, sy), fill:'none', stroke:e[1], 'stroke-width':3.2});
    
    
  });

  /* legend */
  if (p.legend){
    const L = p.legend;
    const lg = make('g', g, {});
    
    
    const box = make('rect', lg, {x:L.x, y:L.y, width:L.w, height:L.h, fill:'#fff'});
    
    
    L.items.forEach(function(key, i){
      const r = make('rect', lg, {x:L.sx, y:L.sy+i*L.step, width:L.sw, height:L.sh, fill:swatch[key].fill});
      
      
      const t = make('text', lg, {x:L.tx, y:L.sy+i*L.step+L.sh/2+4, 'class':'ltext', 'font-size':L.fs});
      
      
      t.textContent = swatch[key].label;
    });
  }
});
</script>
</body>
</html>
